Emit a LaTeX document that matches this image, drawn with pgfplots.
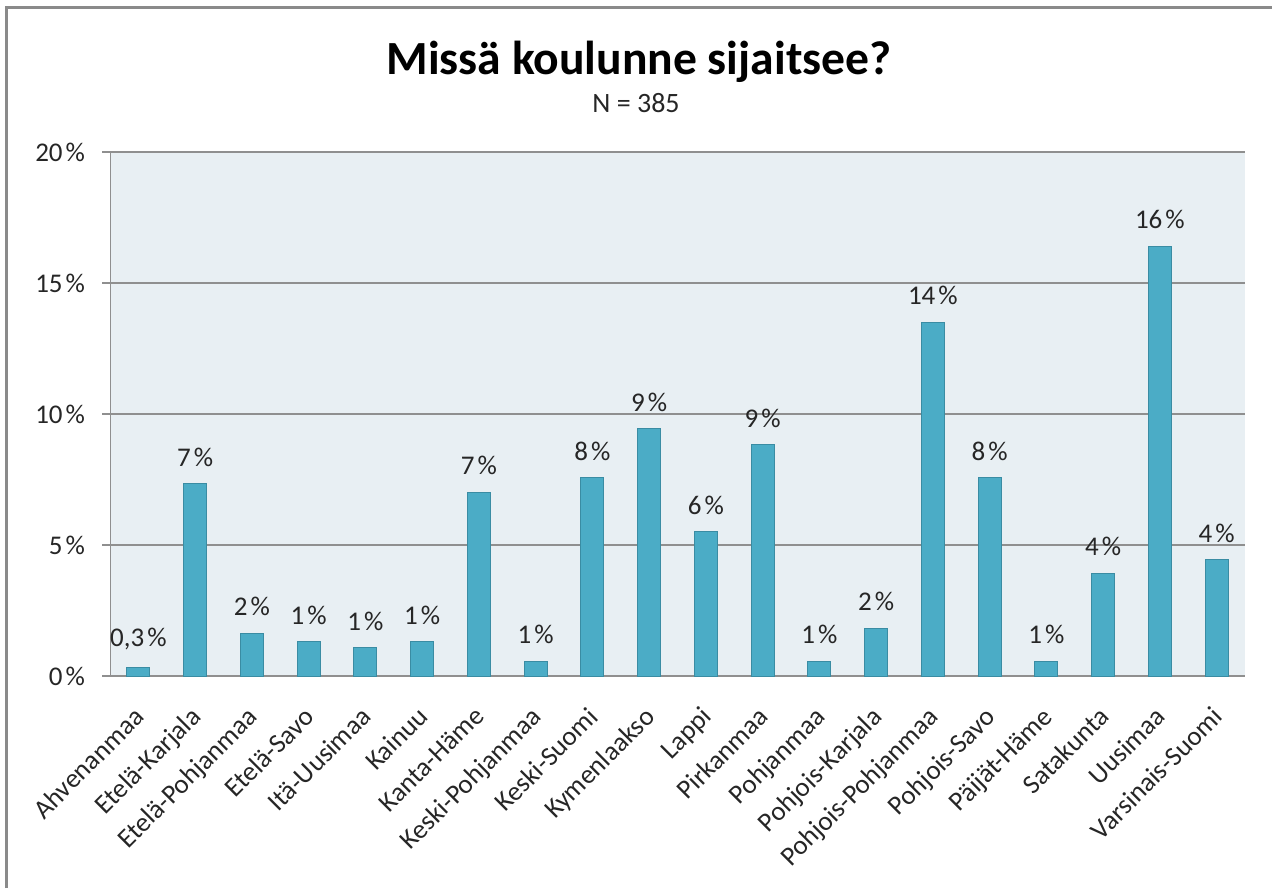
\documentclass[border=0pt]{standalone}
\usepackage{fontspec}
\setmainfont{Carlito}
\usepackage{pgfplots}
\pgfplotsset{compat=1.18}
\usepackage{pgfplotstable}

\definecolor{barfill}{HTML}{4BACC6}
\definecolor{bardraw}{HTML}{3A8CA3}
\definecolor{plotbg}{HTML}{E8EFF3}
\definecolor{gridc}{HTML}{8F8F8F}
\definecolor{txt}{HTML}{262626}
\definecolor{frame}{HTML}{8A8A8A}

% x, share in %, label shown over the bar, region
\pgfplotstableread{
x y lab name
0 0.34 0,3 Ahvenanmaa
1 7.33 7 Etelä-Karjala
2 1.64 2 Etelä-Pohjanmaa
3 1.30 1 Etelä-Savo
4 1.07 1 Itä-Uusimaa
5 1.30 1 Kainuu
6 7.02 7 Kanta-Häme
7 0.57 1 Keski-Pohjanmaa
8 7.56 8 Keski-Suomi
9 9.43 9 Kymenlaakso
10 5.50 6 Lappi
11 8.82 9 Pirkanmaa
12 0.57 1 Pohjanmaa
13 1.83 2 Pohjois-Karjala
14 13.50 14 Pohjois-Pohjanmaa
15 7.56 8 Pohjois-Savo
16 0.57 1 Päijät-Häme
17 3.93 4 Satakunta
18 16.40 16 Uusimaa
19 4.43 4 Varsinais-Suomi
}\regions

\begin{document}
\begin{tikzpicture}
\useasboundingbox (0pt,0pt) rectangle (636pt,444pt);
\draw[frame, line width=1.5pt] (3pt,0pt) -- (3pt,440pt) -- (636pt,440pt);
\node[font=\bfseries\fontsize{23.8}{28}\selectfont, text=black] at (319.5pt,413pt) {Missä koulunne sijaitsee?};
\node[font=\fontsize{14}{16}\selectfont, text=txt] at (318pt,392.5pt) {N = 385};
\begin{axis}[
    at={(55pt,106pt)}, anchor=south west,
    scale only axis,
    width=567.5pt, height=262pt,
    xmin=-0.5, xmax=19.5,
    ymin=0, ymax=20,
    axis background/.style={fill=plotbg},
    axis x line*=bottom, axis y line*=left,
    axis line style={gridc, -},
    ytick={0,5,...,20},
    yticklabel={\pgfmathprintnumber{\tick}\kern1.5pt\%},
    yticklabel style={/pgf/number format/assume math mode=true, font=\fontsize{13.5}{15}\selectfont, text=txt, xshift=-5pt},
    ymajorgrids,
    grid style={gridc, line width=0.6pt},
    ytick style={gridc, line width=0.6pt},
    major tick length=4pt,
    tick align=outside,
    xtick=data,
    xticklabels from table={\regions}{name},
    x tick style={draw=none},
    minor xtick={-0.5,0.5,...,19.5},
    minor x tick style={gridc, line width=0.6pt},
    minor tick length=4pt,
    xticklabel style={xshift=-3pt, yshift=-9pt, rotate=45, anchor=north east, font=\fontsize{13.5}{15}\selectfont, text=txt, inner sep=1pt},
    ]
\addplot[ybar, bar width=11.5pt, fill=barfill, draw=bardraw, line width=0.5pt,
    point meta=explicit symbolic,
    nodes near coords={\pgfplotspointmeta\kern1.5pt\%},
    every node near coord/.append style={font=\fontsize{13.5}{15}\selectfont, text=txt, yshift=5pt}]
    table[x=x, y=y, meta=lab] {\regions};
\end{axis}
\end{tikzpicture}
\end{document}
